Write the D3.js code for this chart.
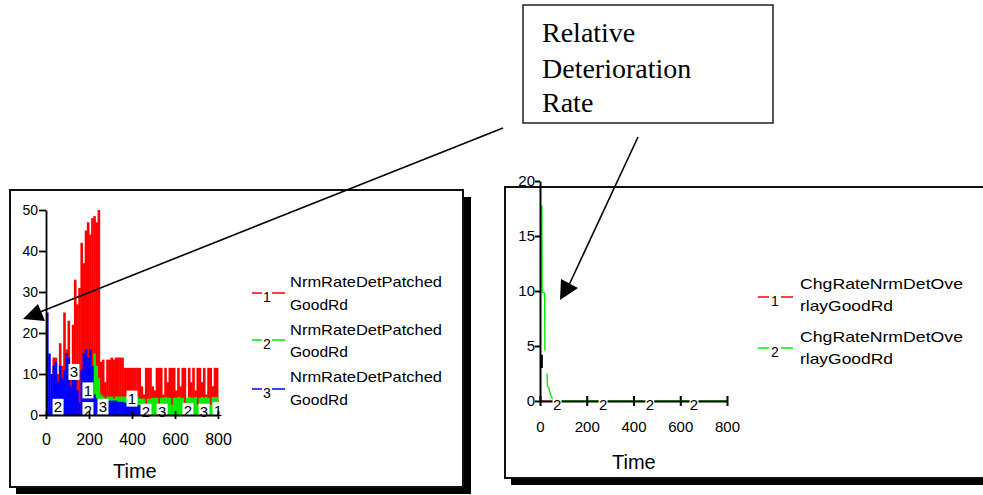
<!DOCTYPE html>
<html><head><meta charset="utf-8">
<script src="https://cdn.jsdelivr.net/npm/d3@7"></script>
<style>body{margin:0;background:#fff}svg{display:block}</style>
</head><body>
<svg id="c" width="983" height="495"></svg>
<script>
// ---------- DATA ----------
// Left chart: time bins (start of each 10-unit bin)
const leftTimes = [0,10,20,30,40,50,60,70,80,90,100,110,120,130,140,150,160,170,180,190,
  200,210,220,230,240,250,260,270,280,290,300,310,320,330,340,350,360,370,380,390,
  400,410,420,430,440,450,460,470,480,490,500,510,520,530,540,550,560,570,580,590,
  600,610,620,630,640,650,660,670,680,690,700,710,720,730,740,750,760,770,780,790];
const series1 = [0,0,0,14,14,10,17.5,12,25,16,23,11,22,33,27,31,42,37,45,47,
  44,48,48.5,47,50,13,13.5,8,13.5,13.5,14,13.5,14,14,14,14,11.5,11.5,11.5,11.5,
  11.5,11.5,11.5,11.5,7,5,11.5,11.5,11.5,7,6,11.5,11.5,11.5,5,11.5,8,11.5,11.5,11.5,
  6,11.5,7,11.5,11.5,4,11.5,8,11.5,6,11.5,11.5,8,11.5,5,11.5,11.5,7,11.5,11.5];
const series2 = [0,0,0,0,0,0,0,0,0,0,0,0,0,0,0,0,0,0,0,0,
  0,8,15,12,9,5,4.5,4,4.5,4.5,4.5,4,4.5,4.5,4.5,4.5,4.5,4.5,4.5,4.5,
  4.5,4.5,4.5,4,4,4,2,4,4,4.2,4.2,4.2,2.5,4.2,4.2,4.4,4.2,4.2,2.5,4.2,
  4.2,4.4,4.2,4.2,2.5,4.2,4.4,4.2,4.2,4.4,2.5,4.2,4.4,4.2,4.4,4.2,2.5,4.4,4.4,4.4];
const series3 = [25,15,10,12,13,8,12,9,11,15,14,7,9,10,6,3,11,15,16,14,
  16,12,5,4,3,3.5,3.5,3.5,3.5,3.5,3.5,3.5,3.5,3.2,3.2,3.2,3,3,3,3,
  2.5,2.5,2.4,2.4,1.8,1.6,1.2,0.8,0,0,0,0,0,0,0,0,0,0,0,0,
  0,0,0,0,0,0,0,0,0,0,0,0,0,0,0,0,0,0,0,0];
const leftYTicks = [0,10,20,30,40,50];
const xTicks = [0,200,400,600,800];
// Left chart series markers (series number, time, value)
const markerSeries = [2,3,1,2,3,1,2,3,2,3,1];
const markerTimes  = [56,130,195,195,265,400,465,540,660,735,800];
const markerValues = [2,10.5,6,1.2,2,4,0.8,0.8,1,0.8,1.2];
const leftLegend = ["NrmRateDetPatched","NrmRateDetPatched","NrmRateDetPatched"];

// Right chart
const rightTimes2  = [8,9,20,21,null,30,32,38,46,60,800];
const rightSeries2 = [17.8,9.9,9.8,4.6,null,2.5,1.3,1.2,0.5,0,0];
const rightSeries1Times = [0,800];
const rightSeries1 = [0,0];
const rightYTicks = [0,5,10,15,20];
const rightMarkerTimes = [73,270,470,659];
const rightMarkerValues = [0,0,0,0];
const rightLegend = ["ChgRateNrmDetOve","ChgRateNrmDetOve"];

const colors = {1:"#ff0000",2:"#00ee00",3:"#0000ff"};
const fontSans = "'Liberation Sans', Arial, sans-serif";

// ---------- DRAW ----------
const svg = d3.select("#c");

function panel(x0,y0,x1,y1){
  svg.append("rect").attr("x",x0+6).attr("y",y0+7).attr("width",x1-x0+2).attr("height",y1-y0).attr("fill","#000");
  svg.append("rect").attr("x",x0).attr("y",y0).attr("width",x1-x0).attr("height",y1-y0)
    .attr("fill","#fff").attr("stroke","#111").attr("stroke-width",2);
}
panel(10,190,463,487);
panel(505,187,990,478);

// ---- Left chart ----
const xL = d3.scaleLinear().domain([0,800]).range([46,218]);
const yL = d3.scaleLinear().domain([0,50]).range([415,210]);
const gL = svg.append("g");
[[series1,1],[series2,2],[series3,3]].forEach(([vals,s])=>{
  gL.append("g").selectAll("rect").data(leftTimes.map((t,i)=>({t,v:vals[i]})).filter(d=>d.v>0))
    .join("rect")
    .attr("x",d=>xL(d.t)).attr("width",d=>xL(d.t+10)-xL(d.t)+0.45)
    .attr("y",d=>yL(d.v)).attr("height",d=>yL(0)-yL(d.v))
    .attr("fill",colors[s]);
});
const mk = gL.append("g").selectAll("g").data(markerSeries.map((s,i)=>({s,t:markerTimes[i],v:markerValues[i]})))
  .join("g").attr("transform",d=>`translate(${xL(d.t)},${yL(d.v)})`);
mk.append("rect").attr("x",-5.5).attr("y",-8).attr("width",11).attr("height",16).attr("fill","#fff");
mk.append("text").text(d=>d.s).attr("text-anchor","middle").attr("y",5.5)
  .attr("font-family",fontSans).attr("font-size",15).attr("fill","#000");

const axL = svg.append("g").attr("transform","translate(46,0)")
  .call(d3.axisLeft(yL).tickValues(leftYTicks).tickSizeInner(7).tickSizeOuter(0).tickPadding(1));
const axLb = svg.append("g").attr("transform","translate(0,415)")
  .call(d3.axisBottom(xL).tickValues(xTicks).tickSizeOuter(0));
[axL,axLb].forEach(a=>{a.selectAll("path,line").attr("stroke","#000").attr("stroke-width",1.8);});
axL.selectAll("text").attr("font-family",fontSans).attr("font-size",14).attr("fill","#000");
axLb.selectAll(".tick line").attr("y1",-4).attr("y2",4);
axLb.selectAll("text").attr("font-family",fontSans).attr("font-size",16).attr("fill","#000")
  .attr("y",30).attr("dy",0);

svg.append("clipPath").attr("id","clipL").append("rect").attr("x",100).attr("y",440).attr("width",57).attr("height",50);
svg.append("text").text("Time").attr("x",113).attr("y",478).attr("clip-path","url(#clipL)")
  .attr("font-family",fontSans).attr("font-size",20).attr("fill","#000");

const legLY = [[293,287,310],[340,335,357],[389,382,405]];
leftLegend.forEach((name,i)=>{
  const [ly,b1,b2] = legLY[i];
  const g = svg.append("g");
  g.append("line").attr("x1",252).attr("x2",262).attr("y1",ly).attr("y2",ly).attr("stroke",colors[i+1]).attr("stroke-width",1.5);
  g.append("line").attr("x1",272).attr("x2",285).attr("y1",ly).attr("y2",ly).attr("stroke",colors[i+1]).attr("stroke-width",1.5);
  g.append("text").text(i+1).attr("x",267).attr("y",ly+9).attr("text-anchor","middle")
    .attr("font-family",fontSans).attr("font-size",14).attr("fill","#000");
  g.append("text").text(name).attr("x",290).attr("y",b1).attr("textLength",152).attr("lengthAdjust","spacingAndGlyphs")
    .attr("font-family",fontSans).attr("font-size",15).attr("fill","#000");
  g.append("text").text("GoodRd").attr("x",290).attr("y",b2).attr("textLength",58).attr("lengthAdjust","spacingAndGlyphs")
    .attr("font-family",fontSans).attr("font-size",15).attr("fill","#000");
});

// ---- Right chart ----
const xR = d3.scaleLinear().domain([0,800]).range([540,727]);
const yR = d3.scaleLinear().domain([0,20]).range([401,181]);
const pts2 = rightTimes2.map((t,i)=>({t,v:rightSeries2[i]}));
svg.append("path").datum(rightSeries1Times.map((t,i)=>({t,v:rightSeries1[i]})))
  .attr("d",d3.line().x(d=>xR(d.t)).y(d=>yR(d.v))).attr("fill","none").attr("stroke",colors[1]).attr("stroke-width",1.2);
svg.append("path").datum(pts2)
  .attr("d",d3.line().defined(d=>d.t!==null&&d.v!==null).x(d=>xR(d.t)).y(d=>yR(d.v)))
  .attr("fill","none").attr("stroke",colors[2]).attr("stroke-width",1.4);

const axR = svg.append("g").attr("transform","translate(540,0)")
  .call(d3.axisLeft(yR).tickValues(rightYTicks).tickSizeInner(5).tickSizeOuter(0).tickPadding(0));
const axRb = svg.append("g").attr("transform","translate(0,401)")
  .call(d3.axisBottom(xR).tickValues(xTicks).tickSizeOuter(0));
[axR,axRb].forEach(a=>{a.selectAll("path,line").attr("stroke","#000").attr("stroke-width",2);});
axR.selectAll("text").attr("font-family",fontSans).attr("font-size",15).attr("fill","#000");
axRb.selectAll(".tick line").attr("y1",-5).attr("y2",5);
axRb.selectAll("text").attr("font-family",fontSans).attr("font-size",15).attr("fill","#000")
  .attr("y",31).attr("dy",0);
svg.append("line").attr("x1",xR(8)).attr("x2",xR(8)).attr("y1",yR(4.2)).attr("y2",yR(3)).attr("stroke","#000").attr("stroke-width",2);

const mkR = svg.append("g").selectAll("g").data(rightMarkerTimes.map((t,i)=>({t,v:rightMarkerValues[i]})))
  .join("g").attr("transform",d=>`translate(${xR(d.t)},${yR(d.v)})`);
mkR.append("rect").attr("x",-4.5).attr("y",-3).attr("width",9).attr("height",10).attr("fill","#fff");
mkR.append("text").text("2").attr("text-anchor","middle").attr("y",9)
  .attr("font-family",fontSans).attr("font-size",15).attr("fill","#000");

svg.append("clipPath").attr("id","clipR").append("rect").attr("x",600).attr("y",440).attr("width",60).attr("height",40);
svg.append("text").text("Time").attr("x",612).attr("y",469).attr("clip-path","url(#clipR)")
  .attr("font-family",fontSans).attr("font-size",20).attr("fill","#000");

const legRY = [[297,289,311],[348,342,364]];
rightLegend.forEach((name,i)=>{
  const [ly,b1,b2] = legRY[i];
  const g = svg.append("g");
  g.append("line").attr("x1",758).attr("x2",769).attr("y1",ly).attr("y2",ly).attr("stroke",colors[i+1]).attr("stroke-width",1.5);
  g.append("line").attr("x1",781).attr("x2",793).attr("y1",ly).attr("y2",ly).attr("stroke",colors[i+1]).attr("stroke-width",1.5);
  g.append("text").text(i+1).attr("x",775).attr("y",ly+9).attr("text-anchor","middle")
    .attr("font-family",fontSans).attr("font-size",14).attr("fill","#000");
  g.append("text").text(name).attr("x",800).attr("y",b1).attr("textLength",163).attr("lengthAdjust","spacingAndGlyphs")
    .attr("font-family",fontSans).attr("font-size",15).attr("fill","#000");
  g.append("text").text("rlayGoodRd").attr("x",800).attr("y",b2).attr("textLength",93).attr("lengthAdjust","spacingAndGlyphs")
    .attr("font-family",fontSans).attr("font-size",15).attr("fill","#000");
});

// ---- Annotation ----
svg.append("rect").attr("x",523).attr("y",5).attr("width",250).attr("height",118)
  .attr("fill","#fff").attr("stroke","#000").attr("stroke-width",1.3);
const annLines = ["Relative","Deterioration","Rate"];
const annBase = [42,78,112];
annLines.forEach((s,i)=>svg.append("text").text(s).attr("x",542).attr("y",annBase[i])
  .attr("font-family","'Liberation Serif','Times New Roman',serif").attr("font-size",28).attr("fill","#000"));
svg.append("line").attr("x1",503).attr("y1",128).attr("x2",40).attr("y2",312).attr("stroke","#000").attr("stroke-width",1.6);
svg.append("polygon").attr("points","23,319 38,304 45,321").attr("fill","#000");
svg.append("line").attr("x1",638).attr("y1",137).attr("x2",569).attr("y2",285).attr("stroke","#000").attr("stroke-width",1.6);
svg.append("polygon").attr("points","560,300 561,279 578,288").attr("fill","#000");
</script>
</body></html>
